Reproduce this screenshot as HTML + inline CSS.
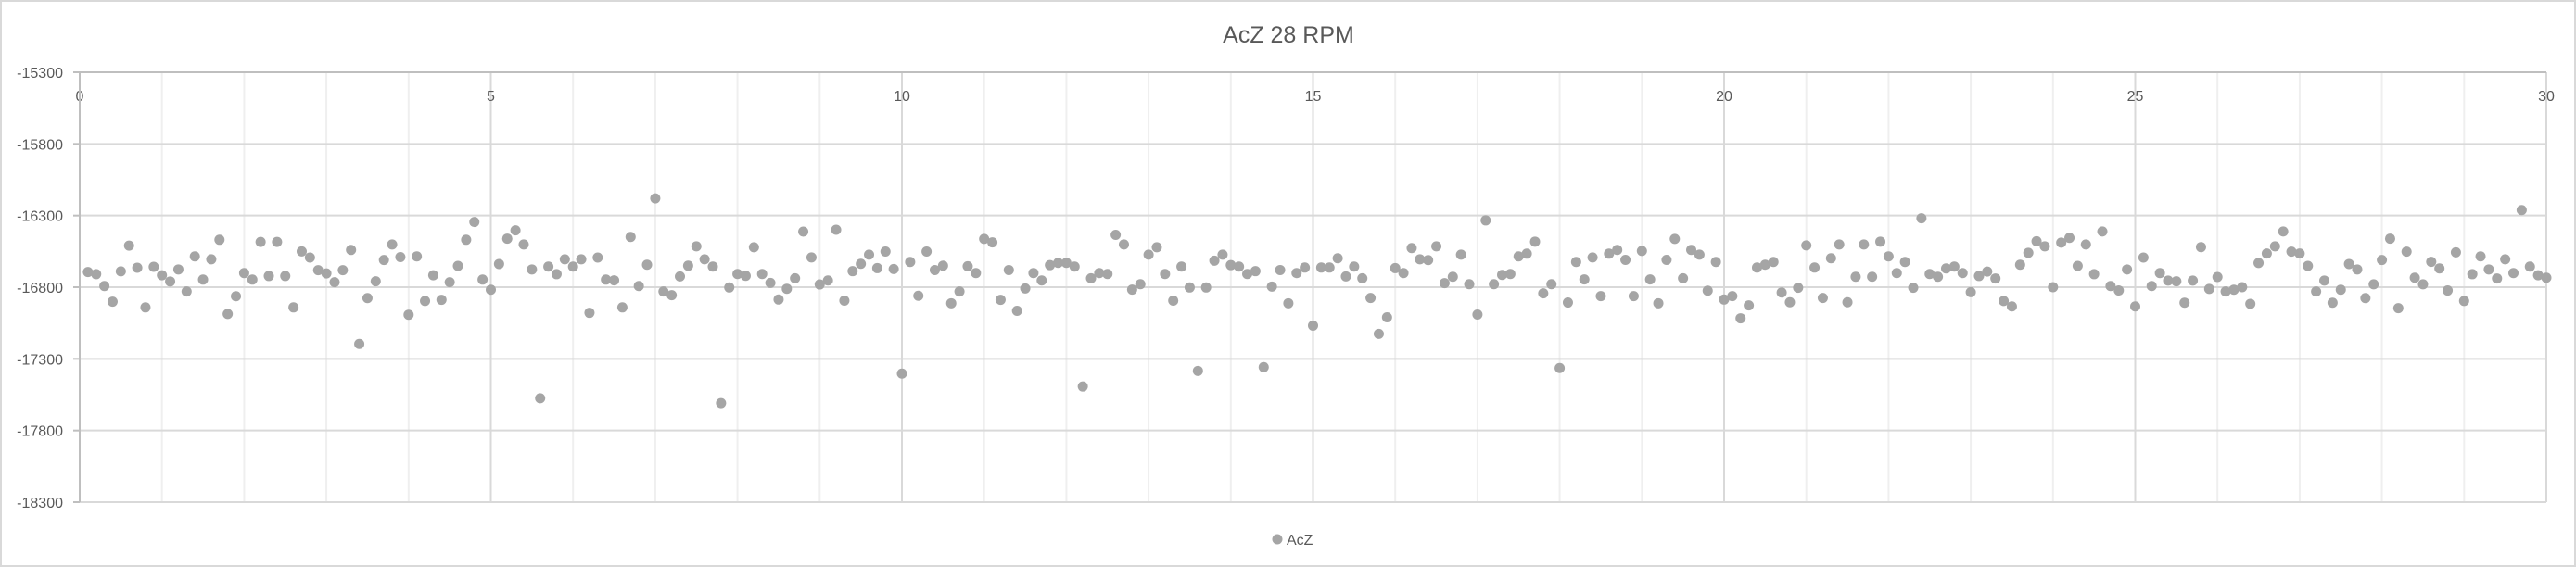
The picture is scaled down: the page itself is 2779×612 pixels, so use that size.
<!DOCTYPE html>
<html><head><meta charset="utf-8"><style>
html,body{margin:0;padding:0;background:#fff;}
svg{display:block;font-family:"Liberation Sans",sans-serif;}
</style></head><body>
<svg id="chart" width="2779" height="612" viewBox="0 0 2779 612" xmlns="http://www.w3.org/2000/svg">
<rect x="1" y="1" width="2777" height="610" fill="#fff" stroke="#d9d9d9" stroke-width="2"/>
<text x="1390" y="46" text-anchor="middle" font-size="25" fill="#595959">AcZ 28 RPM</text>
<g id="grid"></g><g id="axes"></g><g id="points"></g>
<g>
<circle cx="1378" cy="582" r="5.5" fill="#a5a5a5"/>
<text x="1388" y="588" font-size="16" fill="#595959">AcZ</text>
</g>
</svg>
<script>
const xTicks = [0,5,10,15,20,25,30];
const yTicks = [-15300,-15800,-16300,-16800,-17300,-17800,-18300];
const acz = [
-16694,-16709,-16792,-16901,-16689,-16510,-16664,-16941,-16658,-16717,
-16760,-16676,-16830,-16585,-16747,-16605,-16469,-16987,-16863,-16701,
-16747,-16484,-16722,-16484,-16722,-16941,-16550,-16593,-16681,-16704,
-16765,-16681,-16540,-17196,-16876,-16759,-16610,-16502,-16590,-16992,
-16585,-16896,-16717,-16888,-16765,-16651,-16469,-16345,-16747,-16818,
-16638,-16461,-16403,-16502,-16676,-17575,-16656,-16709,-16605,-16656,
-16605,-16979,-16593,-16747,-16752,-16941,-16449,-16792,-16643,-16180,
-16830,-16856,-16725,-16650,-16515,-16605,-16656,-17609,-16802,-16708,
-16721,-16521,-16708,-16770,-16886,-16811,-16738,-16412,-16592,-16781,
-16753,-16399,-16894,-16688,-16637,-16573,-16667,-16551,-16673,-17403,
-16624,-16860,-16551,-16680,-16650,-16912,-16830,-16654,-16701,-16463,
-16487,-16888,-16680,-16965,-16809,-16701,-16753,-16646,-16630,-16630,
-16656,-17493,-16738,-16701,-16708,-16435,-16502,-16817,-16779,-16573,
-16521,-16708,-16894,-16656,-16802,-17384,-16802,-16615,-16573,-16646,
-16656,-16708,-16688,-17358,-16796,-16680,-16912,-16701,-16663,-17068,
-16663,-16663,-16598,-16725,-16656,-16738,-16875,-17126,-17010,-16667,
-16701,-16527,-16605,-16611,-16515,-16772,-16727,-16573,-16779,-16991,
-16334,-16779,-16714,-16708,-16585,-16566,-16482,-16843,-16779,-17364,
-16907,-16624,-16746,-16592,-16862,-16566,-16540,-16609,-16862,-16547,
-16746,-16912,-16609,-16463,-16738,-16540,-16573,-16824,-16624,-16886,
-16862,-17017,-16927,-16663,-16643,-16624,-16837,-16905,-16804,-16508,
-16663,-16875,-16598,-16502,-16905,-16727,-16502,-16727,-16482,-16585,
-16701,-16624,-16804,-16319,-16708,-16727,-16669,-16656,-16701,-16835,
-16722,-16691,-16739,-16896,-16934,-16643,-16560,-16479,-16515,-16800,
-16489,-16456,-16651,-16502,-16709,-16411,-16792,-16823,-16676,-16934,
-16593,-16792,-16701,-16754,-16759,-16908,-16754,-16520,-16812,-16729,
-16830,-16818,-16800,-16916,-16631,-16565,-16515,-16411,-16552,-16565,
-16651,-16830,-16754,-16908,-16818,-16638,-16676,-16876,-16780,-16610,
-16461,-16946,-16552,-16734,-16780,-16623,-16669,-16823,-16557,-16896,
-16709,-16585,-16676,-16739,-16605,-16701,-16262,-16656,-16717,-16734
];
const NS="http://www.w3.org/2000/svg";
const L=86,R=2747,T=78,B=542;
const xMin=0,xMax=30,yMax=-15300,yMin=-18300;
function sx(v){return L+(v-xMin)/(xMax-xMin)*(R-L);}
function sy(v){return T+(yMax-v)/(yMax-yMin)*(B-T);}
function mk(tag,attrs,parent){const e=document.createElementNS(NS,tag);for(const k in attrs)e.setAttribute(k,attrs[k]);parent.appendChild(e);return e;}
const grid=document.getElementById('grid'),axes=document.getElementById('axes'),pts=document.getElementById('points');
for(let i=xMin+1;i<xMax;i++){
  if(i%5===0)continue;
  const ln=mk('line',{x1:sx(i),x2:sx(i),y1:T,y2:B,stroke:'#efefef','stroke-width':2},grid);
  
  
}
xTicks.forEach(t=>{
  const ln=mk('line',{x1:sx(t),x2:sx(t),y1:T,y2:B,stroke:'#d9d9d9','stroke-width':2},grid);
  
  
  const tx=mk('text',{x:sx(t),y:109,'text-anchor':'middle','font-size':16,fill:'#595959'},axes);
  tx.textContent=t;
  
  
});
yTicks.forEach(t=>{
  const ln=mk('line',{x1:L,x2:R,y1:sy(t),y2:sy(t),stroke:(t===yMax?'#bfbfbf':'#d9d9d9'),'stroke-width':2},grid);
  
  
  const tk=mk('line',{x1:L-7,x2:L,y1:sy(t),y2:sy(t),stroke:'#bfbfbf','stroke-width':2},axes);
  
  
  const tx=mk('text',{x:68,y:sy(t)+6,'text-anchor':'end','font-size':16,fill:'#595959'},axes);
  tx.textContent=t;
  
  
});
const ya=mk('line',{x1:L,x2:L,y1:T,y2:B,stroke:'#bfbfbf','stroke-width':2},axes);


acz.forEach((v,i)=>{
  const x=(i+1)/10;
  const c=mk('circle',{cx:sx(x),cy:sy(v),r:5.5,fill:'#a5a5a5'},pts);
  
  
});
</script>
</body></html>
